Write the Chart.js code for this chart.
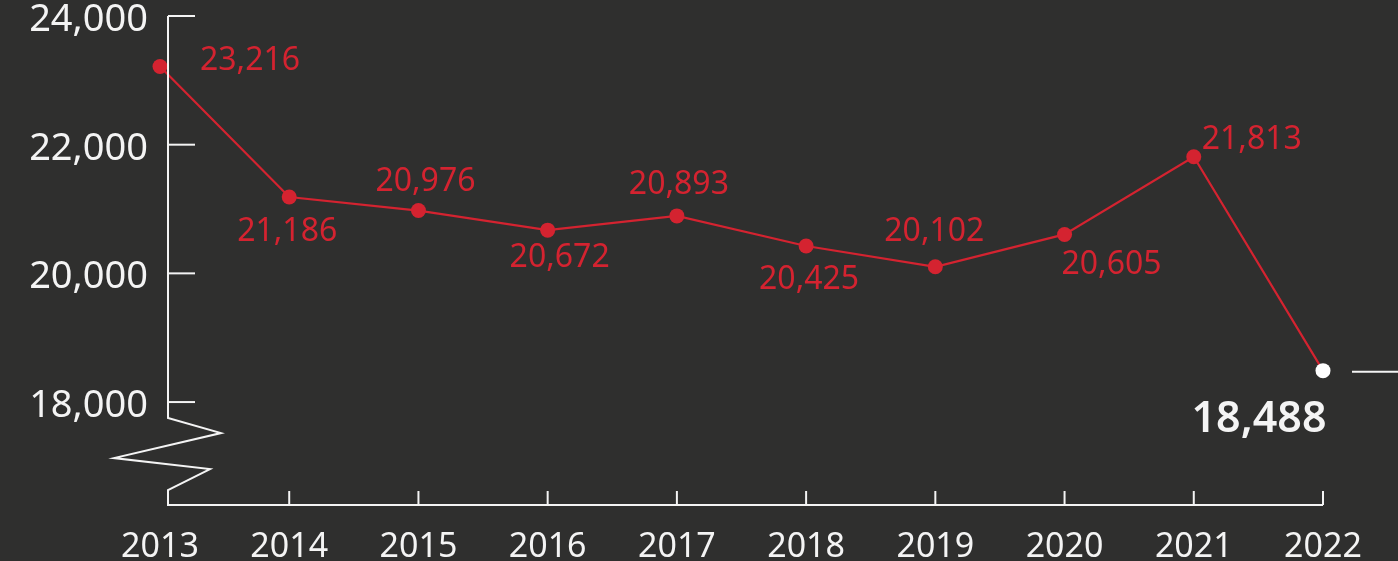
<!DOCTYPE html>
<html>
<head>
<meta charset="utf-8">
<script src="https://cdn.jsdelivr.net/npm/chart.js@4"></script>
<style>
  html, body { margin: 0; padding: 0; background: #2f2f2e; }
  #wrap { width: 1398px; height: 561px; position: relative; }
</style>
</head>
<body>
<div id="wrap"><canvas id="staffChart"></canvas></div>
<script>
// data
const years = ["2013", "2014", "2015", "2016", "2017", "2018", "2019", "2020", "2021", "2022"];
const staff = [23216, 21186, 20976, 20672, 20893, 20425, 20102, 20605, 21813, 18488];
const yTicks = [18000, 20000, 22000, 24000];

const RED = "#d42330";
const WHITE = "#f4f4f4";
const FONT = "'Noto Sans', sans-serif";

// label placement (offset from the point, in px)
const labelOffsets = [
  [90, -8], [-2, 33], [7, -31], [12, 25], [2, -33],
  [3, 32], [-1, -37], [47, 28], [58, -19], [-64, 46]
];

const fmt = v => v.toLocaleString("en-US");

// axis line, zigzag break, small ticks, value labels
const decorPlugin = {
  id: "decor",
  afterDatasetsDraw(chart) {
    const ctx = chart.ctx;
    const x = chart.scales.x, y = chart.scales.y;
    const ax = chart.chartArea.left + 8;
    const base = chart.chartArea.bottom;
    const top = y.getPixelForValue(24000);
    const brk = y.getPixelForValue(18000);

    ctx.save();
    ctx.strokeStyle = WHITE;
    ctx.lineWidth = 2;
    ctx.lineJoin = "miter";

    // y axis with break
    ctx.beginPath();
    ctx.moveTo(ax, top);
    ctx.lineTo(ax, brk + 16);
    ctx.lineTo(ax + 53, brk + 31);
    ctx.lineTo(ax - 54, brk + 56);
    ctx.lineTo(ax + 42, brk + 67);
    ctx.lineTo(ax, brk + 88);
    ctx.lineTo(ax, base);
    // baseline
    ctx.lineTo(x.getPixelForValue(years.length - 1), base);
    ctx.stroke();

    // y ticks
    yTicks.forEach(v => {
      const py = y.getPixelForValue(v);
      ctx.beginPath();
      ctx.moveTo(ax, py);
      ctx.lineTo(ax + 27, py);
      ctx.stroke();
    });

    // x ticks
    for (let i = 1; i < years.length; i++) {
      const px = x.getPixelForValue(i);
      ctx.beginPath();
      ctx.moveTo(px, base);
      ctx.lineTo(px, base - 14);
      ctx.stroke();
    }

    // pointer line at last value
    const meta = chart.getDatasetMeta(0);
    const last = meta.data[meta.data.length - 1];
    ctx.beginPath();
    ctx.moveTo(last.x + 29, last.y + 1);
    ctx.lineTo(chart.width, last.y + 1);
    ctx.stroke();

    // value labels
    ctx.textAlign = "center";
    ctx.textBaseline = "alphabetic";
    meta.data.forEach((pt, i) => {
      const isLast = i === staff.length - 1;
      const size = isLast ? 43 : 32;
      ctx.font = (isLast ? "600 " : "400 ") + size + "px " + FONT;
      ctx.fillStyle = isLast ? WHITE : RED;
      const [dx, dy] = labelOffsets[i];
      ctx.fillText(fmt(staff[i]), pt.x + dx, pt.y + dy + size * 0.357);
    });
    ctx.restore();
  }
};

const noPad = s => { s.paddingTop = 0; s.paddingBottom = 0; s.paddingLeft = 0; s.paddingRight = 0; };

new Chart(document.getElementById("staffChart"), {
  type: "line",
  data: {
    labels: years,
    datasets: [{
      data: staff,
      borderColor: RED,
      borderWidth: 2.2,
      tension: 0,
      pointRadius: 7.5,
      pointHoverRadius: 7.5,
      pointBorderWidth: 0,
      pointBackgroundColor: staff.map((v, i) => i === staff.length - 1 ? "#ffffff" : RED),
      clip: false
    }]
  },
  options: {
    responsive: true,
    maintainAspectRatio: false,
    animation: false,
    layout: { padding: { top: 16, right: 75, left: 0, bottom: 0 } },
    plugins: { legend: { display: false }, tooltip: { enabled: false } },
    scales: {
      x: {
        offset: false,
        grid: { display: false, drawTicks: false },
        border: { display: false },
        ticks: { color: WHITE, font: { family: FONT, size: 34 }, padding: 22, maxRotation: 0, autoSkip: false },
        afterFit: s => { s.height = 56; noPad(s); }
      },
      y: {
        min: 16400,
        max: 24000,
        grid: { display: false, drawTicks: false },
        border: { display: false },
        afterBuildTicks: s => { s.ticks = yTicks.map(v => ({ value: v })); },
        ticks: {
          color: WHITE,
          font: { family: FONT, size: 38 },
          padding: 12,
          labelOffset: 4,
          callback: v => fmt(v)
        },
        afterFit: s => { s.width = 160; noPad(s); }
      }
    }
  },
  plugins: [decorPlugin]
});
</script>
</body>
</html>
